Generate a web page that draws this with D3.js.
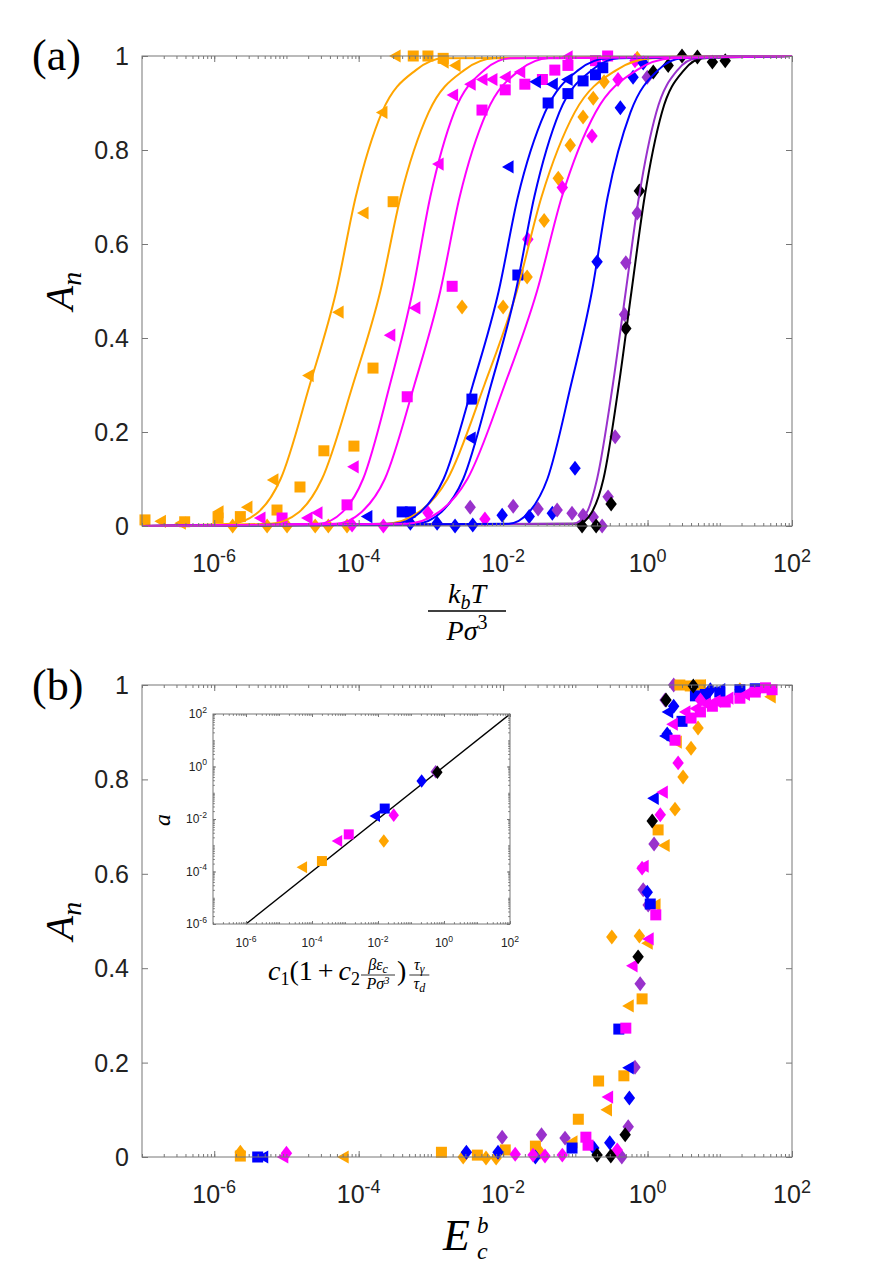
<!DOCTYPE html>
<html>
<head>
<meta charset="utf-8">
<script src="https://cdn.jsdelivr.net/npm/d3@7"></script>
<style>
  body { margin: 0; background: #fff; }
</style>
</head>
<body>
<div id="chart"></div>
<script>
// ---------- data ----------
// series order: orange tri, orange sq, orange dia, magenta tri, magenta sq, magenta dia,
//               blue tri, blue sq, blue dia, purple dia, black dia
var seriesColor = ["#FFA500", "#FFA500", "#FFA500", "#FF00FF", "#FF00FF", "#FF00FF",
                   "#0000FF", "#0000FF", "#0000FF", "#9932CC", "#000000"];
var seriesShape = ["tri", "sq", "dia", "tri", "sq", "dia", "tri", "sq", "dia", "dia", "dia"];

// panel (a): fitted curves, x where the curve reaches each level of A
var fitLevels = [0.005, 0.03, 0.1, 0.3, 0.5, 0.7, 0.88, 0.97, 0.995];
var fitO1 = [1.7e-6, 4.1e-6, 8.3e-6, 2.1e-5, 4.9e-5, 9.1e-5, 2.1e-4, 6.2e-4, 1.5e-3];
var fitO2 = [6.0e-6, 1.5e-5, 3.1e-5, 8.3e-5, 2.0e-4, 3.8e-4, 9.3e-4, 2.9e-3, 7.6e-3];
var fitO3 = [2.4e-4, 6.9e-4, 1.7e-3, 5.5e-3, 1.55e-2, 3.4e-2, 9.8e-2, 0.37, 1.17];
var fitM1 = [2.8e-5, 6.0e-5, 1.15e-4, 2.7e-4, 5.6e-4, 9.8e-4, 2.1e-3, 5.5e-3, 1.26e-2];
var fitM2 = [4.8e-5, 1.1e-4, 2.3e-4, 5.9e-4, 1.35e-3, 2.5e-3, 5.9e-3, 1.7e-2, 4.3e-2];
var fitM3 = [4.6e-4, 1.3e-3, 3.2e-3, 1.05e-2, 2.95e-2, 6.5e-2, 0.19, 0.71, 2.2];
var fitB1 = [3.1e-4, 7.2e-4, 1.5e-3, 3.8e-3, 8.7e-3, 1.6e-2, 3.8e-2, 0.11, 0.28];
var fitB2 = [6.2e-4, 1.4e-3, 2.8e-3, 6.8e-3, 1.5e-2, 2.7e-2, 6.0e-2, 0.17, 0.40];
var fitB3 = [1.2e-2, 2.3e-2, 4.1e-2, 8.7e-2, 0.17, 0.28, 0.58, 1.4, 3.0];
var fitP  = [0.093, 0.145, 0.20, 0.33, 0.50, 0.76, 1.32, 2.6, 4.8];
var fitK  = [0.11, 0.17, 0.245, 0.40, 0.60, 0.91, 1.58, 3.2, 5.8];

// panel (a): simulation points [kT/Pσ^3, A_n]
var aOrangeTri = [[1.8e-7,0.01],[3.4e-7,0.006],[1.13e-6,0.03],[2.84e-6,0.04],[6.5e-6,0.098],[2.0e-5,0.32],[5.2e-5,0.455],[1.15e-4,0.666],[2.1e-4,0.88],[3.2e-4,1.0],[1.48e-3,0.987],[2.16e-3,0.98]];
var aOrangeSq = [[1.1e-7,0.013],[3.9e-7,0.009],[1.13e-6,0.017],[2.3e-6,0.02],[7.4e-6,0.034],[1.54e-5,0.083],[3.3e-5,0.16],[8.6e-5,0.17],[1.58e-4,0.336],[3.0e-4,0.69],[5.7e-4,1.0],[9.1e-4,1.0],[1.48e-3,0.995]];
var aOrangeDia = [[1.8e-6,0],[5.4e-6,0],[1.02e-5,0],[2.5e-5,0],[3.8e-5,0],[6.9e-5,0],[2.7e-3,0.466],[1.0e-2,0.466],[2.15e-2,0.53],[3.7e-2,0.65],[5.8e-2,0.74],[8.5e-2,0.81],[0.128,0.87],[0.177,0.91],[0.25,0.945],[0.72,0.995]];
var aMagTri = [[4.3e-6,0.017],[1.93e-5,0.017],[2.65e-5,0.028],[8.4e-5,0.126],[2.7e-4,0.406],[6.0e-4,0.464],[1.26e-3,0.77],[2.0e-3,0.917],[3.5e-3,0.94],[5.1e-3,0.95],[7.0e-3,0.95],[1.07e-2,0.955],[1.7e-2,0.966],[7.7e-2,0.998]];
var aMagSq = [[8.7e-6,0.017],[6.9e-5,0.045],[4.7e-4,0.275],[1.97e-3,0.51],[5.1e-3,0.885],[1.07e-2,0.928],[2.0e-2,0.94],[3.5e-2,0.95],[5.2e-2,0.97],[7.9e-2,0.98],[0.19,0.99],[0.28,1.0]];
var aMagDia = [[8.1e-5,0.002],[2.2e-4,0],[9.1e-4,0.028],[5.6e-3,0.015],[2.2e-2,0.61],[6.6e-2,0.72],[0.17,0.83],[0.39,0.95],[0.67,0.99]];
var aBlueTri = [[1.3e-4,0.02],[3.5e-3,0.187],[1.17e-2,0.764],[2.8e-2,0.945],[4.8e-2,0.94],[7.7e-2,0.95]];
var aBlueSq = [[4.0e-4,0.03],[5.2e-4,0.03],[3.7e-3,0.27],[1.6e-2,0.534],[4.2e-2,0.9],[7.9e-2,0.92],[0.128,0.947],[0.19,0.96],[0.24,0.975]];
var aBlueDia = [[5.2e-4,0.006],[1.22e-3,0.006],[2.16e-3,0],[3.8e-3,0.002],[9.7e-3,0.023],[2.3e-2,0.02],[4.8e-2,0.027],[9.9e-2,0.123],[0.20,0.562],[0.42,0.89],[0.63,0.955],[0.87,0.985]];
var aPurpDia = [[3.5e-3,0.04],[1.38e-2,0.042],[3.05e-2,0.036],[5.6e-2,0.034],[9.0e-2,0.027],[0.128,0.023],[0.177,0.019],[0.235,0],[0.284,0.062],[0.356,0.19],[0.48,0.45],[0.5,0.56],[0.72,0.666],[0.99,0.955]];
var aBlackDia = [[0.124,0],[0.194,0],[0.313,0.047],[0.50,0.42],[0.77,0.713],[1.2,0.966],[1.93,0.98],[3.0,1.0],[4.9,0.998],[7.9,0.987],[11.9,0.99]];

// panel (b): collapsed points [E_c^b, A_n]
var bOrangeTri = [[6.1e-5,0],[9.0e-2,0.032],[0.27,0.1],[0.54,0.32],[0.99,0.453],[1.27,0.534],[1.7,0.66],[2.5,0.879],[5.4,0.998],[50,0.975]];
var bOrangeSq = [[2.3e-6,0.002],[1.4e-3,0.01],[4.4e-3,0.004],[1.07e-2,0.015],[2.8e-2,0.023],[0.11,0.08],[0.21,0.161],[0.47,0.172],[0.84,0.335],[1.4,0.693],[2.8,1.0],[3.9,0.998],[5.4,1.0]];
var bOrangeDia = [[2.3e-6,0.01],[2.8e-3,0],[5.8e-3,-0.002],[8.0e-3,-0.002],[3.25e-2,0.01],[0.32,0.466],[0.77,0.468],[2.4,0.737],[3.1,0.805],[4.0,0.866],[5.0,0.909],[19,0.99]];
var bMagTri = [[8.9e-6,0],[0.28,0.127],[0.61,0.405],[0.87,0.616],[1.02,0.462],[1.6,0.773],[2.2,0.917],[3.3,0.943],[4.6,0.95],[6.3,0.96],[8.6,0.966],[13,0.972],[22,0.98]];
var bMagSq = [[0.14,0.042],[0.15,0.025],[0.50,0.273],[1.3,0.513],[2.4,0.883],[4.0,0.93],[5.4,0.943],[7.9,0.955],[11.9,0.964],[19,0.972],[31,0.985],[43,0.994],[53,0.99]];
var bMagDia = [[1.0e-5,0.008],[1.47e-2,0.006],[2.6e-2,0.004],[3.8e-2,0.002],[6.6e-2,0.004],[0.38,0.015],[0.84,0.612],[1.5,0.725],[2.65,0.835],[5.4,0.968]];
var bBlueTri = [[4.7e-6,0],[0.54,0.189],[1.2,0.76],[1.75,0.892],[1.9,0.943],[5.4,0.979],[10,0.99]];
var bBlueSq = [[4.0e-6,0],[9.0e-2,0.019],[0.40,0.271],[1.09,0.536],[3.0,0.923],[4.6,0.977],[6.3,0.98],[10,0.985],[19,0.99],[31,0.992]];
var bBlueDia = [[3.1e-3,0.01],[8.5e-3,0.01],[2.8e-2,0],[0.18,0.019],[0.30,0.03],[0.56,0.125],[0.99,0.561],[1.87,0.896],[2.3,0.955],[7.4,0.99]];
var bPurpDia = [[9.7e-3,0.042],[3.4e-2,0.047],[7.2e-2,0.04],[0.44,0],[0.54,0.064],[0.67,0.19],[0.79,0.367],[0.87,0.566],[1.02,0.534],[1.23,0.663],[1.75,0.968],[2.3,1.0]];
var bBlackDia = [[0.20,0.004],[0.31,0.002],[0.49,0.047],[0.74,0.424],[1.16,0.712],[1.8,0.968],[4.3,0.998]];

// inset: one point per series, same order as seriesColor
var insetX = [5.0e-5, 2.0e-4, 1.5e-2, 5.8e-4, 1.3e-3, 3.0e-2, 8.1e-3, 1.6e-2, 0.21, 0.56, 0.63];
var insetA = [1.45e-4, 2.5e-4, 1.45e-3, 1.45e-3, 2.6e-3, 1.4e-2, 1.3e-2, 2.5e-2, 0.28, 0.63, 0.60];
var insetLine = [[1e-6, 1e-6], [1e2, 1e2]];

// ticks
var xMajor = [1e-6, 1e-4, 1e-2, 1, 1e2];
var xMajorExp = ["-6", "-4", "-2", "0", "2"];
var yTicks = [0, 0.2, 0.4, 0.6, 0.8, 1];
var yTickText = ["0", "0.2", "0.4", "0.6", "0.8", "1"];
var insetYMajor = [1e-6, 1e-4, 1e-2, 1, 1e2];

// ---------- drawing ----------
var sans = "'Liberation Sans', Arial, Helvetica, sans-serif";
var serif = "'Liberation Serif', 'Times New Roman', serif";
var axisCol = "#777", textCol = "#222";

var svg = d3.select("#chart").append("svg")
    .attr("width", 872)
    .attr("height", 1268)
    .style("background", "#fff");

function markerPath(shape, s) {
  if (shape == "sq") return "M" + (-s/2) + "," + (-s/2) + "h" + s + "v" + s + "h" + (-s) + "Z";
  if (shape == "dia") return "M0," + (-s*0.68) + "L" + (s*0.52) + ",0L0," + (s*0.68) + "L" + (-s*0.52) + ",0Z";
  // triangle pointing left
  return "M" + (-s*0.55) + ",0L" + (s*0.5) + "," + (-s*0.6) + "L" + (s*0.5) + "," + (s*0.6) + "Z";
}

function drawPoints(g, x, y, pts, color, shape, s) {
  g.append("g").selectAll("path")
    .data(pts)
    .enter().append("path")
      .attr("d", markerPath(shape, s))
      .attr("transform", function(d) { return "translate(" + x(d[0]) + "," + y(d[1]) + ")"; })
      .attr("fill", color);
}

function frame(g, x, y, xMaj, xMin, yMaj, yMin, big, small) {
  var xr = x.range(), yr = y.range();
  function put(axis, tr) {
    var a = g.append("g").attr("transform", tr).call(axis);
    a.select(".domain").remove();
    a.selectAll("text").remove();
    a.selectAll("line").attr("stroke", axisCol);
  }
  put(d3.axisBottom(x).tickValues(xMin).tickSize(-small).tickSizeOuter(0), "translate(0," + yr[0] + ")");
  put(d3.axisBottom(x).tickValues(xMaj).tickSize(-big).tickSizeOuter(0), "translate(0," + yr[0] + ")");
  put(d3.axisTop(x).tickValues(xMin).tickSize(-small).tickSizeOuter(0), "translate(0," + yr[1] + ")");
  put(d3.axisTop(x).tickValues(xMaj).tickSize(-big).tickSizeOuter(0), "translate(0," + yr[1] + ")");
  put(d3.axisLeft(y).tickValues(yMin).tickSize(-small).tickSizeOuter(0), "translate(" + xr[0] + ",0)");
  put(d3.axisLeft(y).tickValues(yMaj).tickSize(-big).tickSizeOuter(0), "translate(" + xr[0] + ",0)");
  put(d3.axisRight(y).tickValues(yMin).tickSize(-small).tickSizeOuter(0), "translate(" + xr[1] + ",0)");
  put(d3.axisRight(y).tickValues(yMaj).tickSize(-big).tickSizeOuter(0), "translate(" + xr[1] + ",0)");
  g.append("rect")
    .attr("x", xr[0]).attr("y", yr[1])
    .attr("width", xr[1] - xr[0]).attr("height", yr[0] - yr[1])
    .attr("fill", "none").attr("stroke", axisCol).attr("stroke-width", 1);
}

function powLabel(g, px, py, e, size, anchor) {
  var t = g.append("text")
    .attr("x", px).attr("y", py)
    .attr("text-anchor", anchor || "middle")
    .attr("font-family", sans).attr("font-size", size).attr("fill", textCol);
  t.append("tspan").text("10");
  t.append("tspan").attr("dy", -size * 0.42).attr("font-size", size * 0.72).text(e);
}

function mainPanel(top, bottom) {
  var x = d3.scaleLog().domain([1e-7, 1e2]).range([142, 792]);
  var y = d3.scaleLinear().domain([0, 1]).range([bottom, top]);
  return { x: x, y: y };
}

function panelAxes(p, labelY) {
  var g = svg.append("g");
  frame(g, p.x, p.y, xMajor, p.x.ticks(), yTicks, [], 6, 3);
  xMajor.forEach(function(v, i) { powLabel(g, p.x(v), labelY, xMajorExp[i], 25); });
  yTicks.forEach(function(v, i) {
    g.append("text")
      .attr("x", 129).attr("y", p.y(v) + 9)
      .attr("text-anchor", "end")
      .attr("font-family", sans).attr("font-size", 25).attr("fill", textCol)
      .text(yTickText[i]);
  });
  // A_n
  var t = g.append("text")
    .attr("transform", "translate(73," + ((p.y(0) + p.y(1)) / 2) + ") rotate(-90)")
    .attr("text-anchor", "middle")
    .attr("font-family", serif).attr("font-style", "italic").attr("font-size", 40).attr("fill", "#000");
  t.append("tspan").text("A");
  t.append("tspan").attr("dy", 8).attr("font-size", 28).text("n");
}

// ---------- panel (a) ----------
var pa = mainPanel(56, 526);
var ga = svg.append("g");

var aSeries = [aOrangeTri, aOrangeSq, aOrangeDia, aMagTri, aMagSq, aMagDia,
               aBlueTri, aBlueSq, aBlueDia, aPurpDia, aBlackDia];
aSeries.forEach(function(pts, i) {
  drawPoints(ga, pa.x, pa.y, pts, seriesColor[i], seriesShape[i], 11);
});

var fits = [
  { xs: fitK, c: "#000000" }, { xs: fitP, c: "#9932CC" },
  { xs: fitO1, c: "#FFA500" }, { xs: fitO2, c: "#FFA500" }, { xs: fitO3, c: "#FFA500" },
  { xs: fitB1, c: "#0000FF" }, { xs: fitB2, c: "#0000FF" }, { xs: fitB3, c: "#0000FF" },
  { xs: fitM1, c: "#FF00FF" }, { xs: fitM2, c: "#FF00FF" }, { xs: fitM3, c: "#FF00FF" }
];
var fitLine = d3.line()
  .x(function(d) { return pa.x(d[0]); })
  .y(function(d) { return pa.y(d[1]); })
  .curve(d3.curveMonotoneX);
fits.forEach(function(f) {
  var pts = [[1e-7, 0]].concat(f.xs.map(function(v, i) { return [v, fitLevels[i]]; }), [[1e2, 1]]);
  ga.append("path")
    .attr("d", fitLine(pts))
    .attr("fill", "none")
    .attr("stroke", f.c)
    .attr("stroke-width", 2);
});

panelAxes(pa, 572);

// x label k_bT / Pσ^3
var xl = svg.append("g").attr("font-family", serif).attr("font-style", "italic").attr("fill", "#000");
var num = xl.append("text").attr("x", 467).attr("y", 603).attr("text-anchor", "middle").attr("font-size", 28);
num.append("tspan").text("k");
num.append("tspan").attr("dy", 6).attr("font-size", 20).text("b");
num.append("tspan").attr("dy", -6).text("T");
xl.append("line").attr("x1", 428).attr("x2", 506).attr("y1", 611).attr("y2", 611)
  .attr("stroke", "#000").attr("stroke-width", 1.3);
var den = xl.append("text").attr("x", 467).attr("y", 640).attr("text-anchor", "middle").attr("font-size", 28);
den.append("tspan").text("P");
den.append("tspan").text("σ");
den.append("tspan").attr("dy", -11).attr("font-size", 20).attr("font-style", "normal").text("3");

svg.append("text").attr("x", 32).attr("y", 70)
  .attr("font-family", serif).attr("font-size", 44).attr("fill", "#000").text("(a)");

// ---------- panel (b) ----------
var pb = mainPanel(685, 1157);
var gb = svg.append("g");
var bSeries = [bOrangeTri, bOrangeSq, bOrangeDia, bMagTri, bMagSq, bMagDia,
               bBlueTri, bBlueSq, bBlueDia, bPurpDia, bBlackDia];
var bOrder = [9, 0, 1, 2, 6, 7, 8, 3, 4, 5, 10];
bOrder.forEach(function(i) {
  drawPoints(gb, pb.x, pb.y, bSeries[i], seriesColor[i], seriesShape[i], 11);
});
panelAxes(pb, 1203);

svg.append("text").attr("x", 443).attr("y", 1250)
  .attr("font-family", serif).attr("font-style", "italic").attr("font-size", 44).attr("fill", "#000")
  .text("E");
svg.append("text").attr("x", 477).attr("y", 1259)
  .attr("font-family", serif).attr("font-style", "italic").attr("font-size", 24).text("c");
svg.append("text").attr("x", 477).attr("y", 1233)
  .attr("font-family", serif).attr("font-style", "italic").attr("font-size", 23).text("b");

svg.append("text").attr("x", 32).attr("y", 700)
  .attr("font-family", serif).attr("font-size", 44).attr("fill", "#000").text("(b)");

// ---------- inset ----------
var ix = d3.scaleLog().domain([1e-7, 1e2]).range([213, 510]);
var iy = d3.scaleLog().domain([1e-6, 1e2]).range([924, 714]);
var gi = svg.append("g");
gi.append("rect").attr("x", 213).attr("y", 714).attr("width", 297).attr("height", 210).attr("fill", "#fff");

gi.append("path")
  .attr("d", d3.line().x(function(d) { return ix(d[0]); }).y(function(d) { return iy(d[1]); })(insetLine))
  .attr("stroke", "#000").attr("stroke-width", 1.4).attr("fill", "none");
insetX.forEach(function(v, i) {
  drawPoints(gi, ix, iy, [[v, insetA[i]]], seriesColor[i], seriesShape[i], 10);
});
frame(gi, ix, iy, xMajor, ix.ticks(), insetYMajor, iy.ticks(), 3, 1.8);
xMajor.forEach(function(v, i) { powLabel(gi, ix(v), 947, xMajorExp[i], 12); });
insetYMajor.forEach(function(v, i) { powLabel(gi, 207, iy(v) + 4, xMajorExp[i], 12, "end"); });

gi.append("text")
  .attr("transform", "translate(170,820) rotate(-90)")
  .attr("text-anchor", "middle")
  .attr("font-family", serif).attr("font-style", "italic").attr("font-size", 24).text("a");

// inset x label: c1(1 + c2 βε_c/Pσ^3) τ_γ/τ_d
var fx = 268, base = 980;
var f1 = gi.append("text").attr("x", fx).attr("y", base)
  .attr("font-family", serif).attr("font-size", 28);
f1.append("tspan").attr("font-style", "italic").text("c");
f1.append("tspan").attr("dy", 5).attr("font-size", 18).text("1");
f1.append("tspan").attr("dy", -5).text("(1");
f1.append("tspan").attr("dx", 5).text("+");
f1.append("tspan").attr("dx", 5).attr("font-style", "italic").text("c");
f1.append("tspan").attr("dy", 5).attr("font-size", 18).text("2");
var w1 = f1.node().getComputedTextLength() + 10;

function smallFrac(cx, topParts, botParts, width) {
  var tn = gi.append("text").attr("x", cx).attr("y", base - 10).attr("text-anchor", "middle")
    .attr("font-family", serif).attr("font-style", "italic").attr("font-size", 16);
  topParts.forEach(function(p) { tn.append("tspan").attr("dy", p[1]).attr("font-size", p[2]).text(p[0]); });
  var tb = gi.append("text").attr("x", cx).attr("y", base + 9).attr("text-anchor", "middle")
    .attr("font-family", serif).attr("font-style", "italic").attr("font-size", 16);
  botParts.forEach(function(p) { tb.append("tspan").attr("dy", p[1]).attr("font-size", p[2]).text(p[0]); });
  gi.append("line").attr("x1", cx - width / 2).attr("x2", cx + width / 2)
    .attr("y1", base - 5).attr("y2", base - 5).attr("stroke", "#000").attr("stroke-width", 0.8);
}
var c1x = fx + w1 + 18;
smallFrac(c1x, [["βε", 0, 16], ["c", 3, 12]], [["Pσ", 0, 16], ["3", -5, 11]], 34);
var par = gi.append("text").attr("x", c1x + 19).attr("y", base)
  .attr("font-family", serif).attr("font-size", 28).text(")");
var c2x = c1x + 19 + par.node().getComputedTextLength() + 13;
smallFrac(c2x, [["τ", 0, 16], ["γ", 3, 12]], [["τ", 0, 16], ["d", 3, 12]], 20);
</script>
</body>
</html>
